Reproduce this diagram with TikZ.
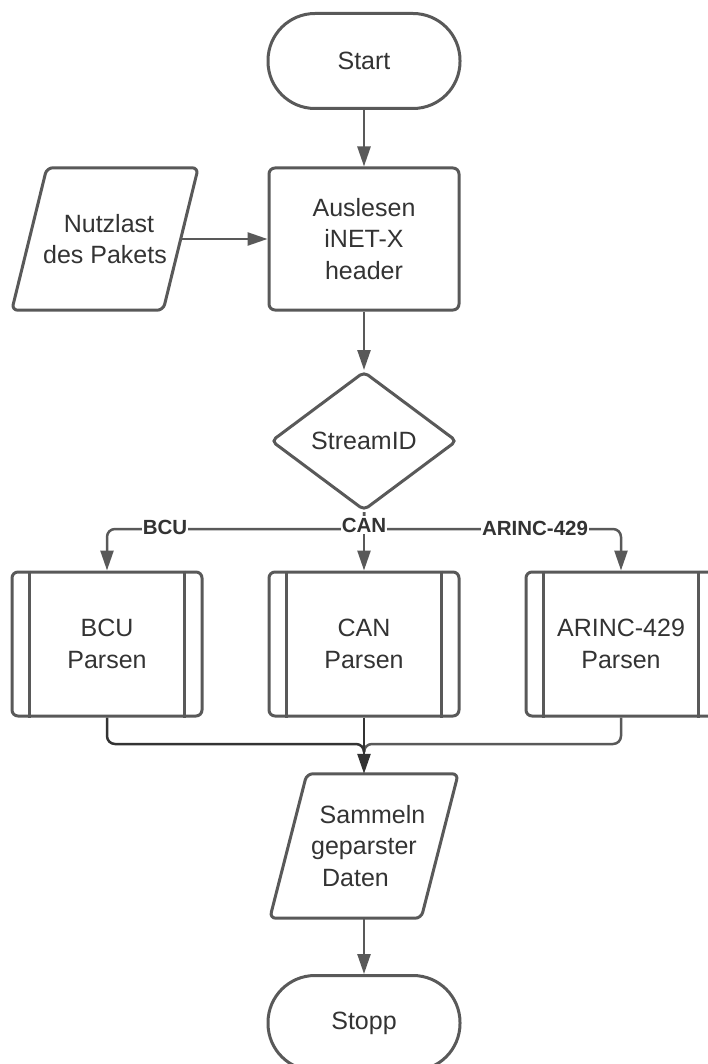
\documentclass[tikz,border=0pt]{standalone}
\usepackage{fontspec}
\setmainfont{Liberation Sans}
\usetikzlibrary{arrows.meta,shapes.geometric}
\definecolor{edge}{HTML}{595959}
\definecolor{ink}{HTML}{333333}
\definecolor{dark}{HTML}{333333}
\tikzset{
  x=1pt, y=1pt,
  txt/.style={font=\fontsize{25}{31.5}\selectfont, text=ink, align=center},
  terminal/.style={txt, draw=edge, line width=3pt, rectangle, rounded corners=47pt,
    minimum width=192pt, minimum height=95pt, inner sep=0pt},
  procbox/.style={txt, draw=edge, line width=3pt, rectangle, rounded corners=6pt,
    minimum width=190pt, minimum height=142pt, inner sep=0pt},
  predef/.style={procbox, minimum height=144pt},
  iobox/.style={txt, rectangle, minimum width=151pt, minimum height=142pt, inner sep=0pt},
  decision/.style={txt, draw=edge, line width=3pt, diamond, rounded corners=5pt,
    minimum width=186pt, minimum height=139pt, inner sep=0pt},
  outline/.style={draw=edge, line width=3pt, rounded corners=6pt},
  conn/.style={draw=edge, line width=2.5pt, -{Triangle[width=13pt,length=20pt]}},
  plainconn/.style={draw=edge, line width=2.5pt},
  lbl/.style={font=\bfseries\fontsize{20.5}{23}\selectfont, text=ink, fill=white,
    inner xsep=1pt, inner ysep=2pt},
}
\begin{document}
\begin{tikzpicture}
\useasboundingbox (0,0) rectangle (708,-1064);
\clip (0,0) rectangle (708,-1064);

% main column
\node[terminal] (start) at (364,-61) {Start};
\node[procbox] (read) at (364,-239) {Auslesen\\iNET-X\\header};
\node[iobox] (load) at (105,-239) {\kern8pt Nutzlast\\des Pakets};
\draw[outline] ([xshift=-17.5pt]load.south west) -- ([xshift=17.5pt]load.north west)
  -- ([xshift=17.5pt]load.north east) -- ([xshift=-17.5pt]load.south east) -- cycle;
\node[decision] (sid) at (364,-441) {StreamID};

% predefined processes
\foreach \nm/\cx/\tx in {bcu/107/{BCU\\Parsen}, can/364/{CAN\\Parsen}, arinc/621/{ARINC-429\\Parsen}}{
  \node[predef] (\nm) at (\cx,-644) {\tx};
  \draw[edge, line width=3pt] ([xshift=19pt]\nm.north west) -- ([xshift=19pt]\nm.south west);
  \draw[edge, line width=3pt] ([xshift=-19pt]\nm.north east) -- ([xshift=-19pt]\nm.south east);
}

\node[iobox, minimum height=144pt] (coll) at (364,-846) {\kern17pt Sammeln\\geparster\\Daten\kern17pt};
\draw[outline] ([xshift=-18.5pt]coll.south west) -- ([xshift=18.5pt]coll.north west)
  -- ([xshift=18.5pt]coll.north east) -- ([xshift=-18.5pt]coll.south east) -- cycle;
\node[terminal] (stop) at (364,-1023) {Stopp};

% connectors
\draw[conn] (start) -- (read);
\draw[conn] (load.east) -- (read.west);
\draw[conn] (read) -- (sid.north);

\coordinate (split) at (364,-529);
\draw[conn, rounded corners=8pt] (sid.south) -- (split) -| (bcu.north);
\draw[conn, rounded corners=8pt] (sid.south) -- (split) -| (arinc.north);
\draw[conn] (sid.south) -- (can.north);

\node[lbl] (lb1) at (165,-527) {BCU};
\node[lbl] (lb2) at (364,-525) {CAN};
\node[lbl] (lb3) at (535,-528) {ARINC-429};

\coordinate (join) at (364,-744);
\draw[plainconn, rounded corners=8pt] (arinc.south) |- (join) -- ++(0,-5);
\draw[plainconn, draw=dark, rounded corners=8pt] (bcu.south) |- (join) -- ++(0,-5);
\draw[conn, draw=dark, fill=dark] (can.south) -- (coll.north);

\draw[conn] (coll.south) -- (stop.north);
\end{tikzpicture}
\end{document}
